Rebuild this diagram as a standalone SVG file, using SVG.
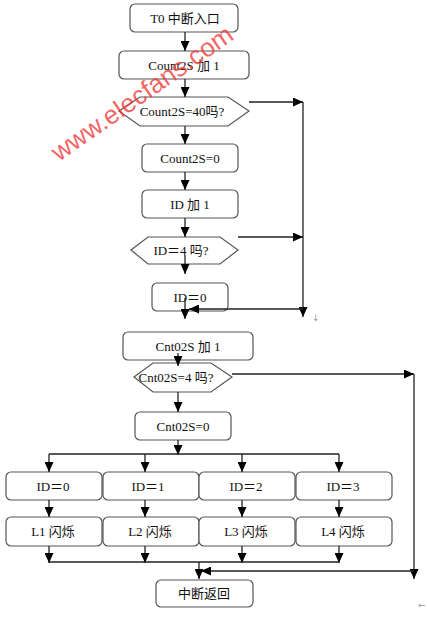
<svg xmlns="http://www.w3.org/2000/svg" width="427" height="617" viewBox="0 0 427 617">
<defs>
<marker id="ah" markerUnits="userSpaceOnUse" markerWidth="10" markerHeight="9" refX="10" refY="4.5" orient="auto">
<path d="M0,0 L10,4.5 L0,9 z" fill="#000"/>
</marker>
<style>
.box{fill:#fff;stroke:#555;stroke-width:1.2}
.t{font-family:"Liberation Serif","Noto Sans CJK SC",serif;font-size:13px;fill:#111;text-anchor:middle}
.c{fill:none;stroke:#222;stroke-width:1.3}
.a{fill:none;stroke:#222;stroke-width:1.3;marker-end:url(#ah)}
.pm{font-family:"DejaVu Sans",sans-serif;font-size:9px;fill:#999}
</style>
</defs>
<rect width="427" height="617" fill="#fff"/>

<g id="n_start"><rect class="box" x="130" y="4" width="108" height="28" rx="5"/><text class="t" x="185" y="23">T0 中断入口</text></g>
<g id="n_count_inc"><rect class="box" x="119" y="51" width="130" height="28" rx="5"/><text class="t" x="184" y="70">Count2S 加 1</text></g>
<g id="n_count_chk"><polygon class="box" points="119,111 140,97 228,97 249,111 228,126 140,126"/><text class="t" x="182" y="116">Count2S=40吗?</text></g>
<g id="n_count_zero"><rect class="box" x="142" y="144" width="96" height="28" rx="5"/><text class="t" x="190" y="163">Count2S=0</text></g>
<g id="n_id_inc"><rect class="box" x="142" y="190" width="96" height="28" rx="5"/><text class="t" x="190" y="209">ID 加 1</text></g>
<g id="n_id_chk"><polygon class="box" points="131,250 148,237 220,237 238,250 220,264 148,264"/><text class="t" x="181" y="255">ID＝4 吗?</text></g>
<g id="n_id_zero"><rect class="box" x="152" y="283" width="76" height="28" rx="5"/><text class="t" x="190" y="302">ID＝0</text></g>
<g id="n_cnt_inc"><rect class="box" x="123" y="332" width="130" height="28" rx="5"/><text class="t" x="188" y="351">Cnt02S 加 1</text></g>
<g id="n_cnt_chk"><polygon class="box" points="134,377 153,363 211,363 232,377 211,392 153,392"/><text class="t" x="176" y="382">Cnt02S=4 吗?</text></g>
<g id="n_cnt_zero"><rect class="box" x="135" y="412" width="96" height="28" rx="5"/><text class="t" x="183" y="431">Cnt02S=0</text></g>

<g id="n_id0"><rect class="box" x="6" y="472" width="96" height="28" rx="5"/><text class="t" x="53" y="491">ID＝0</text></g>
<g id="n_id1"><rect class="box" x="103" y="472" width="96" height="28" rx="5"/><text class="t" x="148" y="491">ID＝1</text></g>
<g id="n_id2"><rect class="box" x="199" y="472" width="96" height="28" rx="5"/><text class="t" x="246" y="491">ID＝2</text></g>
<g id="n_id3"><rect class="box" x="296" y="472" width="96" height="28" rx="5"/><text class="t" x="343" y="491">ID＝3</text></g>

<g id="n_l1"><rect class="box" x="6" y="517" width="96" height="29" rx="5"/><text class="t" x="53" y="536">L1 闪烁</text></g>
<g id="n_l2"><rect class="box" x="103" y="517" width="96" height="29" rx="5"/><text class="t" x="150" y="536">L2 闪烁</text></g>
<g id="n_l3"><rect class="box" x="199" y="517" width="96" height="29" rx="5"/><text class="t" x="246" y="536">L3 闪烁</text></g>
<g id="n_l4"><rect class="box" x="296" y="517" width="96" height="29" rx="5"/><text class="t" x="343" y="536">L4 闪烁</text></g>

<g id="n_ret"><rect class="box" x="156" y="580" width="97" height="27" rx="5"/><text class="t" x="204" y="598">中断返回</text></g>

<g id="connectors">
<line class="a" x1="185" y1="32" x2="185" y2="51"/>
<line class="a" x1="185" y1="79" x2="185" y2="97"/>
<line class="a" x1="185" y1="126" x2="185" y2="144"/>
<line class="a" x1="185" y1="172" x2="185" y2="190"/>
<line class="a" x1="185" y1="218" x2="185" y2="237"/>
<line class="a" x1="185" y1="255" x2="185" y2="274"/>
<line class="a" x1="249" y1="102" x2="303" y2="102"/>
<line class="a" x1="238" y1="237" x2="303" y2="237"/>
<line class="a" x1="303" y1="102" x2="303" y2="317"/>
<line class="a" x1="303" y1="309" x2="189" y2="309"/>
<line class="a" x1="185" y1="298" x2="185" y2="319"/>
<line class="a" x1="178" y1="353" x2="178" y2="366"/>
<line class="a" x1="232" y1="374" x2="414" y2="374"/>
<line class="a" x1="414" y1="374" x2="414" y2="579"/>
<line class="a" x1="414" y1="571" x2="201" y2="571"/>
<line class="a" x1="178" y1="392" x2="178" y2="412"/>
<line class="a" x1="178" y1="440" x2="178" y2="455"/>
<line class="c" x1="49" y1="454" x2="339" y2="454"/>
<line class="a" x1="49" y1="454" x2="49" y2="472"/>
<line class="a" x1="145" y1="454" x2="145" y2="472"/>
<line class="a" x1="242" y1="454" x2="242" y2="472"/>
<line class="a" x1="339" y1="454" x2="339" y2="472"/>
<line class="a" x1="49" y1="500" x2="49" y2="517"/>
<line class="a" x1="145" y1="500" x2="145" y2="517"/>
<line class="a" x1="242" y1="500" x2="242" y2="517"/>
<line class="a" x1="339" y1="500" x2="339" y2="517"/>
<line class="a" x1="49" y1="546" x2="49" y2="563"/>
<line class="a" x1="145" y1="546" x2="145" y2="563"/>
<line class="a" x1="242" y1="546" x2="242" y2="563"/>
<line class="a" x1="339" y1="546" x2="339" y2="563"/>
<line class="c" x1="49" y1="562" x2="339" y2="562"/>
<line class="a" x1="199" y1="562" x2="199" y2="579"/>
</g>

<text class="pm" x="312" y="321">↓</text>
<text class="pm" x="418" y="608">←</text>

<text x="0" y="0" transform="translate(142,93) rotate(-35)" font-family="Liberation Sans, Arial, sans-serif" font-size="26" fill="#f03a3a" fill-opacity="0.8" text-anchor="middle" dy="9">www.elecfans.com</text>
</svg>
